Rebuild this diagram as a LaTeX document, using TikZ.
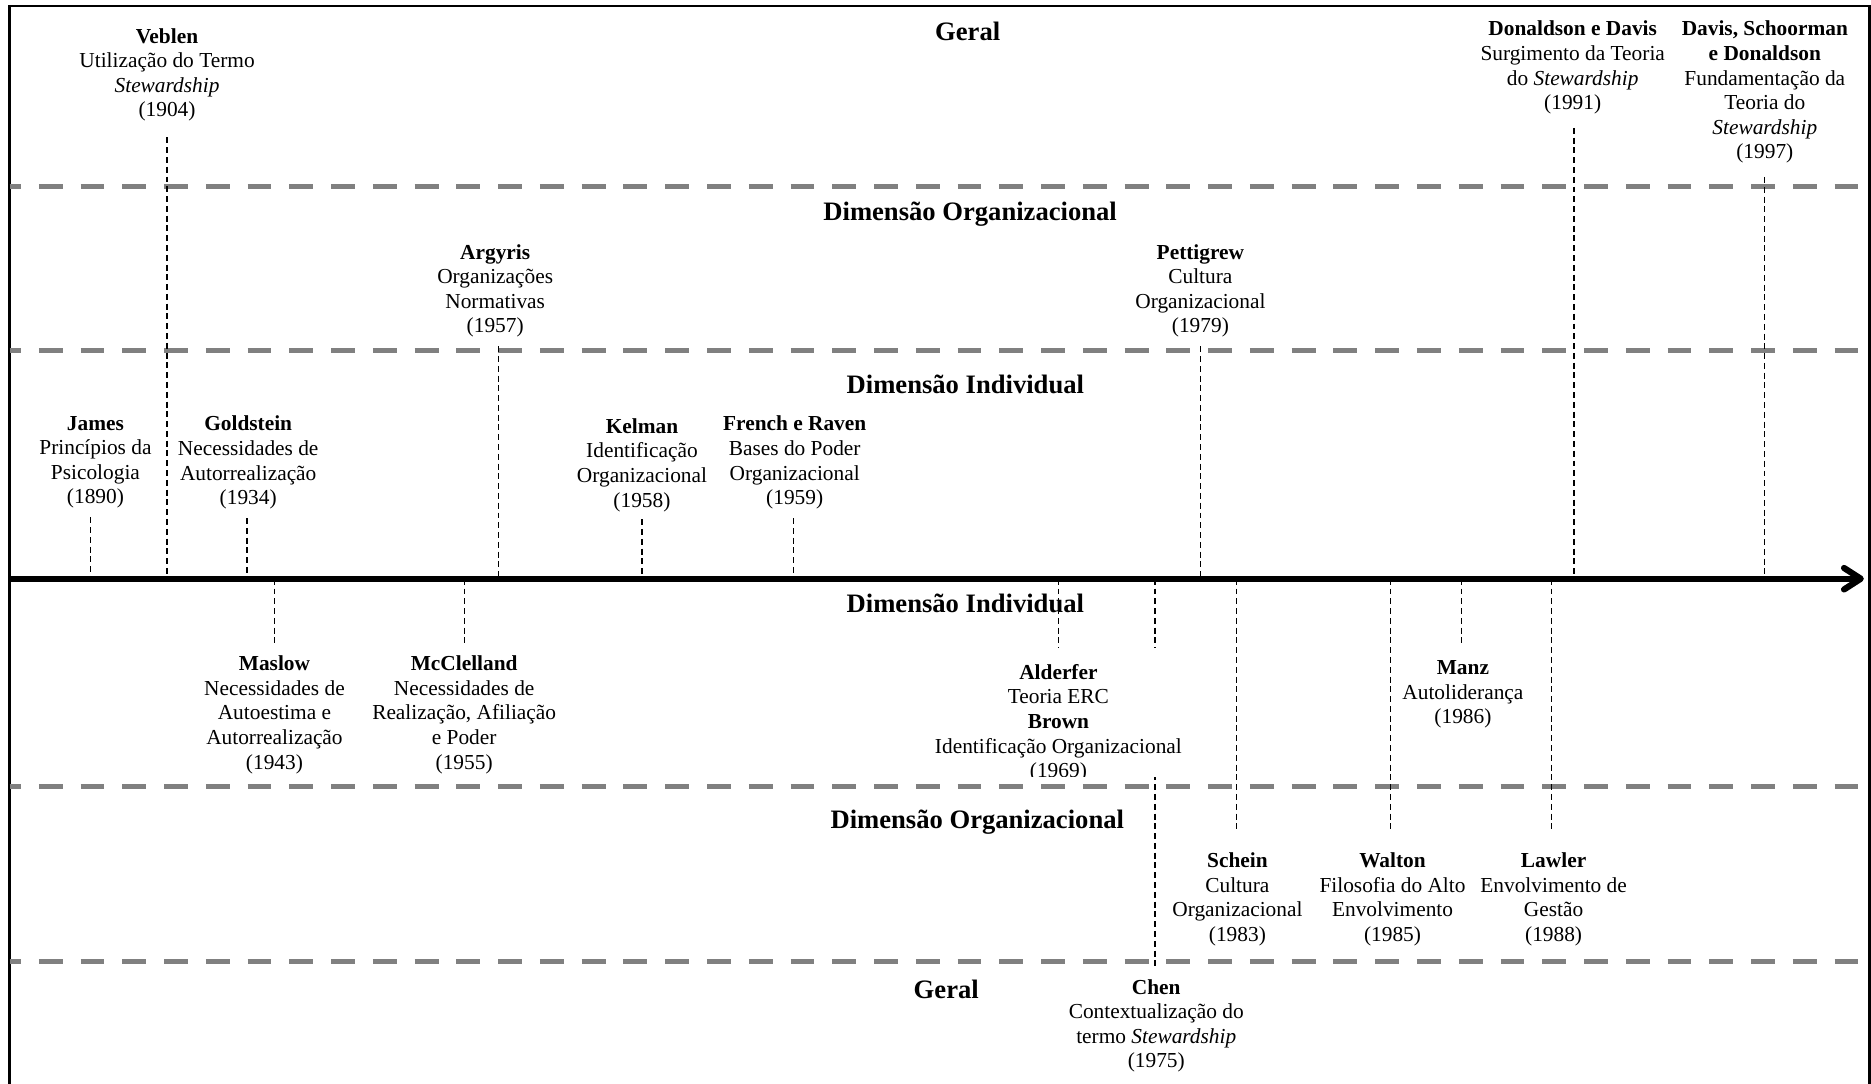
\documentclass[tikz,border=0pt]{standalone}
\usepackage{fontspec}
\setmainfont{Liberation Serif}
\usetikzlibrary{arrows.meta}
\definecolor{bandgrey}{RGB}{128,128,128}
\newcommand\evname[1]{\textbf{#1}}
\begin{document}
\begin{tikzpicture}[x=0.5pt,y=-0.5pt,
  frameline/.style={draw=black, line width=1.2pt},
  band/.style={draw=bandgrey, line width=2pt, dash pattern=on 10pt off 7.5pt, dash phase=5.25pt},
  timeaxis/.style={draw=black, line width=2.6pt, -{Straight Barb[length=7pt,width=9pt,round]}},
  conn/.style={draw=black, line width=0.5pt, dash pattern=on 2.5pt off 1.6pt},
  zone/.style={font=\fontsize{11.15}{13}\selectfont\bfseries, anchor=base, inner sep=0pt},
  evt/.style={font=\fontsize{8.95}{10.3}\selectfont, align=center, anchor=north, inner xsep=1pt, inner ysep=0pt},
]
\useasboundingbox (0,0) rectangle (1568,908);

% outer frame (open at the bottom edge of the page)
\draw[frameline] (8,925) -- (8,5) -- (1567,5) -- (1567,925);

% band separators
\draw[band] (8,156) -- (1567,156);
\draw[band] (8,294) -- (1567,294);
\draw[band] (8,659) -- (1567,659);
\draw[band] (8,806) -- (1567,806);

% band titles
\node[zone] (geralA) at (811,34) {Geral};
\node[zone] (orgA)   at (813,185) {Dimensão Organizacional};
\node[zone] (indA)   at (809,330) {Dimensão Individual};
\node[zone] (indB)   at (809,513) {Dimensão Individual};
\node[zone] (orgB)   at (819,694) {Dimensão Organizacional};
\node[zone] (geralB) at (793,837) {Geral};

% ticks on the time axis
\coordinate (t1890) at (76,485);
\coordinate (t1904) at (140,485);
\coordinate (t1934) at (207,485);
\coordinate (t1943) at (230,485);
\coordinate (t1955) at (389,485);
\coordinate (t1957) at (418,485);
\coordinate (t1958) at (538,485);
\coordinate (t1959) at (665,485);
\coordinate (t1969) at (887,485);
\coordinate (t1975) at (968,485);
\coordinate (t1979) at (1006,485);
\coordinate (t1983) at (1036,485);
\coordinate (t1985) at (1165,485);
\coordinate (t1986) at (1225,485);
\coordinate (t1988) at (1300,485);
\coordinate (t1991) at (1319,485);
\coordinate (t1997) at (1479,485);
\coordinate (axisstart) at (8,485);
\coordinate (axisend) at (1562,485);

% events above the axis
\node[evt] (veblen) at (140,23.3) {\evname{Veblen}\\Utilização do Termo\\\textit{Stewardship}\\(1904)};
\node[evt] (argyris) at (415,204.3) {\evname{Argyris}\\Organizações\\Normativas\\(1957)};
\node[evt] (pettigrew) at (1006,204.3) {\evname{Pettigrew}\\Cultura\\Organizacional\\(1979)};
\node[evt] (dondavis) at (1318,17.3) {\evname{Donaldson e Davis}\\Surgimento da Teoria\\do \textit{Stewardship}\\(1991)};
\node[evt] (davis) at (1479,17.3) {\evname{Davis, Schoorman}\\\evname{e Donaldson}\\Fundamentação da\\Teoria do\\\textit{Stewardship}\\(1997)};
\node[evt] (james) at (80,348.3) {\evname{James}\\Princípios da\\Psicologia\\(1890)};
\node[evt] (goldstein) at (208,348.3) {\evname{Goldstein}\\Necessidades de\\Autorrealização\\(1934)};
\node[evt] (kelman) at (538,350.3) {\evname{Kelman}\\Identificação\\Organizacional\\(1958)};
\node[evt] (french) at (666,348.3) {\evname{French e Raven}\\Bases do Poder\\Organizacional\\(1959)};

% events below the axis
\node[evt] (maslow) at (230,549.3) {\evname{Maslow}\\Necessidades de\\Autoestima e\\Autorrealização\\(1943)};
\node[evt] (mcclelland) at (389,549.3) {\evname{McClelland}\\Necessidades de\\Realização, Afiliação\\e Poder\\(1955)};
\node[evt] (chen) at (969,820.3) {\evname{Chen}\\Contextualização do\\termo \textit{Stewardship}\\(1975)};
\node[evt] (schein) at (1037,714.3) {\evname{Schein}\\Cultura\\Organizacional\\(1983)};
\node[evt] (walton) at (1167,714.3) {\evname{Walton}\\Filosofia do Alto\\Envolvimento\\(1985)};
\node[evt] (manz) at (1226,553.3) {\evname{Manz}\\Autoliderança\\(1986)};
\node[evt] (lawler) at (1302,714.3) {\evname{Lawler}\\Envolvimento de\\Gestão\\(1988)};

% connectors from the upper events down to the axis
\draw[conn, shorten <=6.5pt] (t1904 |- veblen.south) -- (t1904);
\draw[conn, shorten <=3.5pt] (t1957 |- argyris.south) -- (t1957);
\draw[conn, shorten <=3.5pt] (t1979 |- pettigrew.south) -- (t1979);
\draw[conn, shorten <=5.5pt] (t1991 |- dondavis.south) -- (t1991);
\draw[conn, shorten <=5.5pt] (t1997 |- davis.south) -- (t1997);
\draw[conn, shorten <=3.5pt] (t1890 |- james.south) -- (t1890);
\draw[conn, shorten <=3.5pt] (t1934 |- goldstein.south) -- (t1934);
\draw[conn, shorten <=3pt] (t1958 |- kelman.south) -- (t1958);
\draw[conn, shorten <=3.5pt] (t1959 |- french.south) -- (t1959);

% connectors from the axis down to the lower events
\draw[conn, shorten >=4.65pt] (t1943) -- (t1943 |- maslow.north);
\draw[conn, shorten >=4.65pt] (t1955) -- (t1955 |- mcclelland.north);
\draw[conn, shorten >=4.65pt] (t1975) -- (t1975 |- chen.north);
\draw[conn, shorten >=8.65pt] (t1983) -- (t1983 |- schein.north);
\draw[conn, shorten >=8.65pt] (t1985) -- (t1985 |- walton.north);
\draw[conn, shorten >=6.65pt] (t1986) -- (t1986 |- manz.north);
\draw[conn, shorten >=8.65pt] (t1988) -- (t1988 |- lawler.north);

% Alderfer / Brown block, opaque, cut off just above the band line
\begin{scope}
  \clip (700,480) rectangle (1100,651);
  \node[evt, fill=white, inner ysep=6.65pt] (alderfer) at (887,543)
    {\evname{Alderfer}\\Teoria ERC\\\evname{Brown}\\Identificação Organizacional\\(1969)};
\end{scope}
\draw[conn] (t1969) -- (t1969 |- alderfer.north);

% time axis
\draw[timeaxis] (axisstart) -- (axisend);
\end{tikzpicture}
\end{document}
